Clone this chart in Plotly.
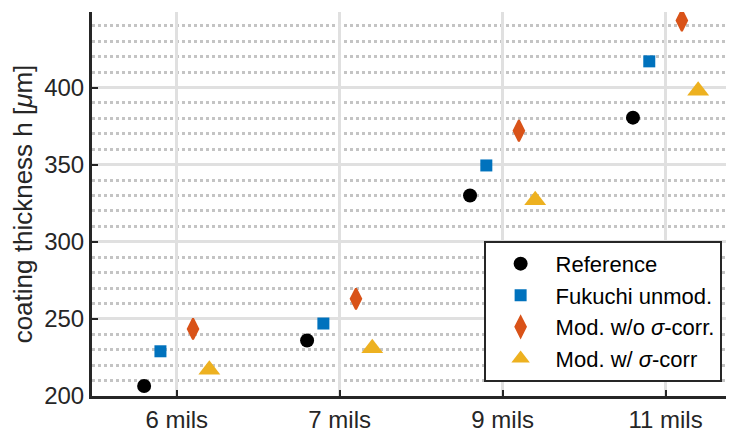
import plotly.graph_objects as go

categories = ["6 mils", "7 mils", "9 mils", "11 mils"]
reference = [206.5, 236, 330, 380.5]
fukuchi = [229, 247, 349.5, 417]
mod_no_sigma = [243.5, 263, 372, 443.5]
mod_sigma = [217, 231, 327, 398]
y_ticks = [200, 250, 300, 350, 400]

series = [
    ("Reference", reference, "circle", "#000000", 14, 0, -0.2),
    ("Fukuchi unmod.", fukuchi, "square", "#0072BD", 12, 0, -0.1),
    ("Mod. w/o <i>σ</i>-corr.", mod_no_sigma, "diamond-tall", "#D95319", 15, 2, 0.1),
    ("Mod. w/ <i>σ</i>-corr", mod_sigma, "triangle-up", "#EDB120", 19, 0, 0.2),
]

fig = go.Figure()
for name, vals, sym, col, size, lw, off in series:
    fig.add_trace(go.Scatter(
        x=[i + off for i in range(len(categories))], y=vals, mode="markers", name=name,
        marker=dict(symbol=sym, color=col, size=size, line=dict(width=lw, color=col)),
    ))

fam = "Liberation Sans, Arial, sans-serif"
tickfont = dict(family=fam, size=24, color="#262626")
fig.update_layout(
    width=726, height=424,
    margin=dict(l=84, r=0, t=4, b=36),
    paper_bgcolor="white", plot_bgcolor="white",
    font=dict(family=fam, size=24, color="#262626"),
    showlegend=True,
    legend=dict(x=0.61, y=0.404, xanchor="left", yanchor="top",
                bordercolor="#262626", borderwidth=2, bgcolor="white",
                font=dict(family=fam, size=22, color="#000000"),
                itemsizing="trace", tracegroupgap=0, itemwidth=60),
    xaxis=dict(range=[-0.52, 3.42], tickvals=list(range(len(categories))), ticktext=categories,
               automargin=False, tickfont=tickfont,
               showgrid=True, gridcolor="#e0e0e0", gridwidth=2.5,
               showline=True, linecolor="#262626", linewidth=3,
               ticks="inside", ticklen=6, tickwidth=2, tickcolor="#262626",
               zeroline=False),
    yaxis=dict(range=[200, 449], tickvals=y_ticks, automargin=False, tickfont=tickfont,
               title=dict(text="coating thickness h [<i>μ</i>m]", standoff=8,
                          font=dict(family=fam, size=26, color="#262626")),
               showgrid=True, gridcolor="#e0e0e0", gridwidth=2.5,
               showline=True, linecolor="#262626", linewidth=3,
               ticks="inside", ticklen=6, tickwidth=2, tickcolor="#262626",
               zeroline=False,
               minor=dict(dtick=10, showgrid=True, gridcolor="#c4c4c4", griddash="dot", gridwidth=2.5, ticks="")),
)
fig.write_html("out.html")
